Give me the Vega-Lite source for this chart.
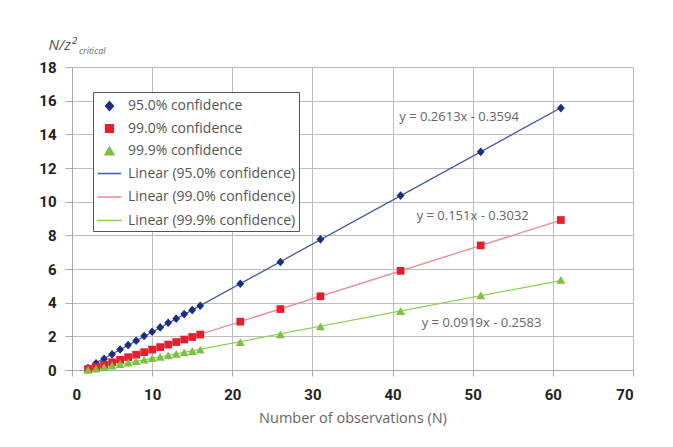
{
  "$schema": "https://vega.github.io/schema/vega-lite/v6.json",
  "width": 561,
  "height": 303,
  "autosize": "none",
  "padding": {"left": 72, "top": 67, "right": 40, "bottom": 77},
  "background": "white",
  "title": {
    "text": "critical",
    "anchor": "start",
    "frame": "group",
    "dx": 7,
    "offset": -19,
    "fontSize": 9,
    "fontStyle": "italic",
    "fontWeight": "normal",
    "color": "#666666",
    "font": "Open Sans"
  },
  "config": {
    "view": {"stroke": null},
    "font": "Open Sans",
    "axis": {
      "gridColor": "#bdbdbd",
      "gridWidth": 1,
      "domainColor": "#a8a8a8",
      "tickColor": "#a8a8a8",
      "labelFont": "Roboto",
      "labelFontWeight": "bold",
      "labelFontSize": 15,
      "labelColor": "#222222",
      "tickCount": 30,
      "format": "d"
    }
  },
  "datasets": {
    "obs": [
      {"N": 2, "value": 0.12, "series": "95.0% confidence", "trend": "Linear (95.0% confidence)"},
      {"N": 3, "value": 0.40, "series": "95.0% confidence", "trend": "Linear (95.0% confidence)"},
      {"N": 4, "value": 0.66, "series": "95.0% confidence", "trend": "Linear (95.0% confidence)"},
      {"N": 5, "value": 0.93, "series": "95.0% confidence", "trend": "Linear (95.0% confidence)"},
      {"N": 6, "value": 1.22, "series": "95.0% confidence", "trend": "Linear (95.0% confidence)"},
      {"N": 7, "value": 1.48, "series": "95.0% confidence", "trend": "Linear (95.0% confidence)"},
      {"N": 8, "value": 1.74, "series": "95.0% confidence", "trend": "Linear (95.0% confidence)"},
      {"N": 9, "value": 2.02, "series": "95.0% confidence", "trend": "Linear (95.0% confidence)"},
      {"N": 10, "value": 2.27, "series": "95.0% confidence", "trend": "Linear (95.0% confidence)"},
      {"N": 11, "value": 2.53, "series": "95.0% confidence", "trend": "Linear (95.0% confidence)"},
      {"N": 12, "value": 2.81, "series": "95.0% confidence", "trend": "Linear (95.0% confidence)"},
      {"N": 13, "value": 3.05, "series": "95.0% confidence", "trend": "Linear (95.0% confidence)"},
      {"N": 14, "value": 3.32, "series": "95.0% confidence", "trend": "Linear (95.0% confidence)"},
      {"N": 15, "value": 3.56, "series": "95.0% confidence", "trend": "Linear (95.0% confidence)"},
      {"N": 16, "value": 3.82, "series": "95.0% confidence", "trend": "Linear (95.0% confidence)"},
      {"N": 21, "value": 5.12, "series": "95.0% confidence", "trend": "Linear (95.0% confidence)"},
      {"N": 26, "value": 6.42, "series": "95.0% confidence", "trend": "Linear (95.0% confidence)"},
      {"N": 31, "value": 7.76, "series": "95.0% confidence", "trend": "Linear (95.0% confidence)"},
      {"N": 41, "value": 10.36, "series": "95.0% confidence", "trend": "Linear (95.0% confidence)"},
      {"N": 51, "value": 12.96, "series": "95.0% confidence", "trend": "Linear (95.0% confidence)"},
      {"N": 61, "value": 15.56, "series": "95.0% confidence", "trend": "Linear (95.0% confidence)"},
      {"N": 2, "value": 0.05, "series": "99.0% confidence", "trend": "Linear (99.0% confidence)"},
      {"N": 3, "value": 0.18, "series": "99.0% confidence", "trend": "Linear (99.0% confidence)"},
      {"N": 4, "value": 0.31, "series": "99.0% confidence", "trend": "Linear (99.0% confidence)"},
      {"N": 5, "value": 0.46, "series": "99.0% confidence", "trend": "Linear (99.0% confidence)"},
      {"N": 6, "value": 0.61, "series": "99.0% confidence", "trend": "Linear (99.0% confidence)"},
      {"N": 7, "value": 0.76, "series": "99.0% confidence", "trend": "Linear (99.0% confidence)"},
      {"N": 8, "value": 0.91, "series": "99.0% confidence", "trend": "Linear (99.0% confidence)"},
      {"N": 9, "value": 1.06, "series": "99.0% confidence", "trend": "Linear (99.0% confidence)"},
      {"N": 10, "value": 1.21, "series": "99.0% confidence", "trend": "Linear (99.0% confidence)"},
      {"N": 11, "value": 1.36, "series": "99.0% confidence", "trend": "Linear (99.0% confidence)"},
      {"N": 12, "value": 1.51, "series": "99.0% confidence", "trend": "Linear (99.0% confidence)"},
      {"N": 13, "value": 1.66, "series": "99.0% confidence", "trend": "Linear (99.0% confidence)"},
      {"N": 14, "value": 1.81, "series": "99.0% confidence", "trend": "Linear (99.0% confidence)"},
      {"N": 15, "value": 1.96, "series": "99.0% confidence", "trend": "Linear (99.0% confidence)"},
      {"N": 16, "value": 2.11, "series": "99.0% confidence", "trend": "Linear (99.0% confidence)"},
      {"N": 21, "value": 2.87, "series": "99.0% confidence", "trend": "Linear (99.0% confidence)"},
      {"N": 26, "value": 3.62, "series": "99.0% confidence", "trend": "Linear (99.0% confidence)"},
      {"N": 31, "value": 4.38, "series": "99.0% confidence", "trend": "Linear (99.0% confidence)"},
      {"N": 41, "value": 5.89, "series": "99.0% confidence", "trend": "Linear (99.0% confidence)"},
      {"N": 51, "value": 7.40, "series": "99.0% confidence", "trend": "Linear (99.0% confidence)"},
      {"N": 61, "value": 8.91, "series": "99.0% confidence", "trend": "Linear (99.0% confidence)"},
      {"N": 2, "value": 0.01, "series": "99.9% confidence", "trend": "Linear (99.9% confidence)"},
      {"N": 3, "value": 0.07, "series": "99.9% confidence", "trend": "Linear (99.9% confidence)"},
      {"N": 4, "value": 0.16, "series": "99.9% confidence", "trend": "Linear (99.9% confidence)"},
      {"N": 5, "value": 0.26, "series": "99.9% confidence", "trend": "Linear (99.9% confidence)"},
      {"N": 6, "value": 0.35, "series": "99.9% confidence", "trend": "Linear (99.9% confidence)"},
      {"N": 7, "value": 0.44, "series": "99.9% confidence", "trend": "Linear (99.9% confidence)"},
      {"N": 8, "value": 0.53, "series": "99.9% confidence", "trend": "Linear (99.9% confidence)"},
      {"N": 9, "value": 0.61, "series": "99.9% confidence", "trend": "Linear (99.9% confidence)"},
      {"N": 10, "value": 0.70, "series": "99.9% confidence", "trend": "Linear (99.9% confidence)"},
      {"N": 11, "value": 0.78, "series": "99.9% confidence", "trend": "Linear (99.9% confidence)"},
      {"N": 12, "value": 0.87, "series": "99.9% confidence", "trend": "Linear (99.9% confidence)"},
      {"N": 13, "value": 0.95, "series": "99.9% confidence", "trend": "Linear (99.9% confidence)"},
      {"N": 14, "value": 1.04, "series": "99.9% confidence", "trend": "Linear (99.9% confidence)"},
      {"N": 15, "value": 1.12, "series": "99.9% confidence", "trend": "Linear (99.9% confidence)"},
      {"N": 16, "value": 1.20, "series": "99.9% confidence", "trend": "Linear (99.9% confidence)"},
      {"N": 21, "value": 1.65, "series": "99.9% confidence", "trend": "Linear (99.9% confidence)"},
      {"N": 26, "value": 2.11, "series": "99.9% confidence", "trend": "Linear (99.9% confidence)"},
      {"N": 31, "value": 2.58, "series": "99.9% confidence", "trend": "Linear (99.9% confidence)"},
      {"N": 41, "value": 3.50, "series": "99.9% confidence", "trend": "Linear (99.9% confidence)"},
      {"N": 51, "value": 4.43, "series": "99.9% confidence", "trend": "Linear (99.9% confidence)"},
      {"N": 61, "value": 5.35, "series": "99.9% confidence", "trend": "Linear (99.9% confidence)"}
    ],
    "eq": [
      {"N": 48.3, "value": 15.05, "label": "y = 0.2613x - 0.3594"},
      {"N": 50.0, "value": 9.15, "label": "y = 0.151x - 0.3032"},
      {"N": 51.1, "value": 2.8, "label": "y = 0.0919x - 0.2583"}
    ]
  },
  "layer": [
    {
      "data": {"name": "obs"},
      "transform": [{"regression": "value", "on": "N", "groupby": ["trend"]}],
      "mark": {"type": "line", "strokeWidth": 1.3},
      "encoding": {
        "x": {
          "field": "N", "type": "quantitative",
          "scale": {"domain": [0, 70], "nice": false},
          "axis": {
            "values": [0, 10, 20, 30, 40, 50, 60, 70],
            "tickCount": 30,
            "format": "d",
            "tickSize": 6,
            "labelPadding": 11,
            "title": "Number of observations (N)",
            "titleFont": "Open Sans",
            "titleFontWeight": "normal",
            "titleFontSize": 14.5,
            "titleColor": "#666666",
            "titlePadding": 9
          }
        },
        "y": {
          "field": "value", "type": "quantitative",
          "scale": {"domain": [0, 18], "nice": false},
          "axis": {
            "values": [0, 2, 4, 6, 8, 10, 12, 14, 16, 18],
            "tickCount": 30,
            "format": "d",
            "tickSize": 7,
            "labelPadding": 9,
            "title": "N/z²",
            "titleAngle": 0,
            "titleAlign": "left",
            "titleBaseline": "alphabetic",
            "titleX": -24,
            "titleY": -18,
            "titleFont": "Open Sans",
            "titleFontStyle": "italic",
            "titleFontWeight": "normal",
            "titleFontSize": 15,
            "titleColor": "#555555"
          }
        },
        "color": {
          "field": "trend", "type": "nominal",
          "scale": {
            "domain": ["95.0% confidence", "99.0% confidence", "99.9% confidence", "Linear (95.0% confidence)", "Linear (99.0% confidence)", "Linear (99.9% confidence)"],
            "range": ["#1c2d85", "#ec1c2e", "#7cc242", "#3f57a8", "#e88a8a", "#8ed152"]
          },
          "legend": {
            "title": null,
            "orient": "none",
            "legendX": 21,
            "legendY": 25,
            "strokeColor": "#555555",
            "fillColor": "white",
            "padding": 3,
            "rowPadding": 3,
            "symbolSize": 256,
            "labelFont": "Open Sans",
            "labelFontSize": 14,
            "labelColor": "#555555",
            "labelOffset": 5,
            "labelLimit": 300,
            "encoding": {
              "symbols": {
                "update": {
                  "stroke": {"signal": "indexof(datum.value, 'Linear') === 0 ? scale('color', datum.value) : 'transparent'"},
                  "strokeWidth": {"signal": "indexof(datum.value, 'Linear') === 0 ? 1.5 : 0"},
                  "fill": {"signal": "indexof(datum.value, 'Linear') === 0 ? 'transparent' : scale('color', datum.value)"}
                }
              }
            }
          }
        }
      }
    },
    {
      "data": {"name": "obs"},
      "mark": {"type": "point", "filled": true, "opacity": 1},
      "encoding": {
        "x": {"field": "N", "type": "quantitative"},
        "y": {"field": "value", "type": "quantitative"},
        "color": {"field": "series", "type": "nominal"},
        "shape": {
          "field": "series", "type": "nominal",
          "scale": {
            "domain": ["95.0% confidence", "99.0% confidence", "99.9% confidence", "Linear (95.0% confidence)", "Linear (99.0% confidence)", "Linear (99.9% confidence)"],
            "range": ["M0,-0.42L0.38,0L0,0.42L-0.38,0Z", "M-0.36,-0.36H0.36V0.36H-0.36Z", "M-0.4,0.34L0.4,0.34L0,-0.36Z", "stroke", "stroke", "stroke"]
          },
          "legend": {"title": null, "orient": "none", "legendX": 21, "legendY": 25, "symbolSize": 256}
        },
        "size": {
          "field": "series", "type": "nominal",
          "scale": {
            "domain": ["95.0% confidence", "99.0% confidence", "99.9% confidence", "Linear (95.0% confidence)", "Linear (99.0% confidence)", "Linear (99.9% confidence)"],
            "range": [420, 620, 400, 256, 256, 256]
          },
          "legend": null
        }
      }
    },
    {
      "data": {"name": "eq"},
      "mark": {"type": "text", "font": "Open Sans", "fontSize": 13, "color": "#666666"},
      "encoding": {
        "x": {"field": "N", "type": "quantitative"},
        "y": {"field": "value", "type": "quantitative"},
        "text": {"field": "label"}
      }
    }
  ]
}
